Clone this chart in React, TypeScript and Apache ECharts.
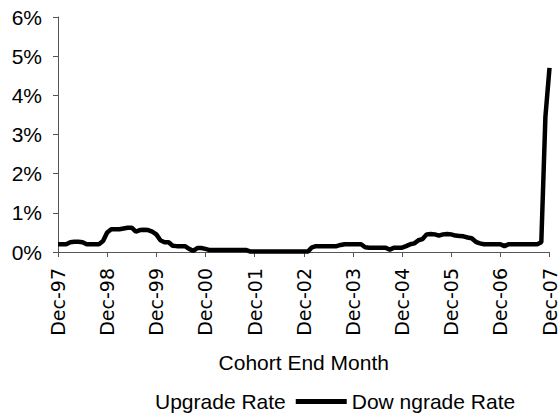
import React, { useEffect, useRef } from "react";
import * as echarts from "echarts";

const MONTHS = ["Jan", "Feb", "Mar", "Apr", "May", "Jun", "Jul", "Aug", "Sep", "Oct", "Nov", "Dec"];
const START_YEAR = 1997;
const END_YEAR = 2007;

const categories: string[] = [];
for (let y = START_YEAR; y <= END_YEAR; y++) {
  for (let m = 0; m < 12; m++) {
    if (y === START_YEAR && m < 11) continue;
    categories.push(`${MONTHS[m]}-${String(y % 100).padStart(2, "0")}`);
  }
}
categories.splice(121);

const downgradeRate = [
  0.2, 0.2, 0.2, 0.25, 0.26, 0.26, 0.25, 0.2, 0.2, 0.2, 0.2, 0.28,
  0.5, 0.58, 0.58, 0.58, 0.6, 0.62, 0.62, 0.52, 0.56, 0.57, 0.56, 0.52,
  0.45, 0.3, 0.25, 0.25, 0.16, 0.15, 0.15, 0.15, 0.08, 0.03, 0.1, 0.1,
  0.08, 0.05, 0.05, 0.05, 0.05, 0.05, 0.05, 0.05, 0.05, 0.05, 0.05, 0.01,
  0.01, 0.01, 0.01, 0.01, 0.01, 0.01, 0.01, 0.01, 0.01, 0.01, 0.01, 0.01,
  0.01, 0.01, 0.12, 0.15, 0.15, 0.15, 0.15, 0.15, 0.15, 0.18, 0.2, 0.2,
  0.2, 0.2, 0.2, 0.12, 0.11, 0.11, 0.11, 0.11, 0.11, 0.06, 0.11, 0.11,
  0.11, 0.15, 0.2, 0.22, 0.3, 0.33, 0.45, 0.46, 0.45, 0.42, 0.45, 0.46,
  0.45, 0.42, 0.41, 0.4, 0.37, 0.35, 0.26, 0.22, 0.2, 0.2, 0.2, 0.2,
  0.2, 0.15, 0.2, 0.2, 0.2, 0.2, 0.2, 0.2, 0.2, 0.2, 0.25, 3.45,
  4.7,
];

const upgradeRate: (number | null)[] = [];

const yTicks = { min: 0, max: 6, interval: 1 };

export default function App() {
  const ref = useRef<HTMLDivElement>(null);
  useEffect(() => {
    if (!ref.current) return;
    const chart = echarts.init(ref.current, undefined, { renderer: "svg" });
    const font = "'Liberation Sans', Arial, sans-serif";
    chart.setOption({
      animation: false,
      backgroundColor: "#ffffff",
      textStyle: { fontFamily: font },
      grid: { left: 58, right: 5, top: 17, bottom: 163, containLabel: false },
      xAxis: {
        type: "category",
        data: categories,
        boundaryGap: false,
        name: "Cohort End Month",
        nameLocation: "middle",
        nameGap: 100,
        nameTextStyle: { fontSize: 21, color: "#000", fontFamily: font },
        axisLine: { lineStyle: { color: "#555", width: 1 } },
        axisTick: { interval: 11, length: 5, lineStyle: { color: "#555" } },
        axisLabel: {
          interval: 11,
          rotate: 90,
          margin: 16,
          fontSize: 19,
          color: "#000",
          fontFamily: "'DejaVu Sans', sans-serif",
        },
        splitLine: { show: false },
      },
      yAxis: {
        type: "value",
        min: yTicks.min,
        max: yTicks.max,
        interval: yTicks.interval,
        axisLine: { show: true, lineStyle: { color: "#555", width: 1 } },
        axisTick: { show: true, length: 5, lineStyle: { color: "#555" } },
        axisLabel: {
          formatter: "{value}%",
          fontSize: 21,
          color: "#000",
          margin: 16,
          fontFamily: font,
        },
        splitLine: { show: false },
      },
      legend: {
        top: 386,
        left: 94,
        icon: "rect",
        itemWidth: 51,
        itemHeight: 5,
        itemGap: 10,
        textStyle: { fontSize: 21, color: "#000", fontFamily: font },
        data: ["Upgrade Rate", "Dow ngrade Rate"],
      },
      series: [
        {
          name: "Upgrade Rate",
          type: "line",
          data: upgradeRate,
          showSymbol: false,
          symbol: "none",
          lineStyle: { color: "#ffffff", width: 5 },
          itemStyle: { color: "#ffffff" },
        },
        {
          name: "Dow ngrade Rate",
          type: "line",
          data: downgradeRate,
          showSymbol: false,
          symbol: "none",
          lineStyle: { color: "#000000", width: 4.5 },
          itemStyle: { color: "#000000" },
        },
      ],
    });
    return () => chart.dispose();
  }, []);
  return (
    <div
      ref={ref}
      style={{ position: "absolute", left: 0, top: 0, width: 559, height: 415 }}
    />
  );
}
